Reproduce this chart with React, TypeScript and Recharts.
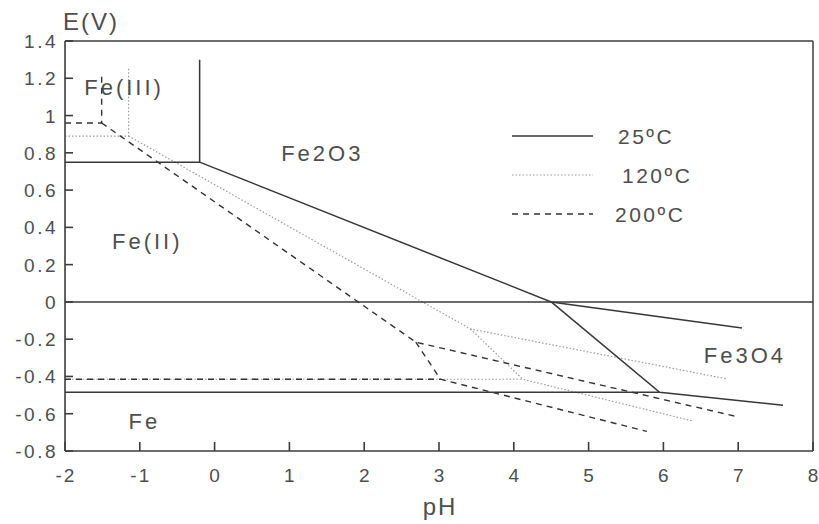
import React from 'react';
import { LineChart, Line, XAxis, YAxis, ReferenceLine, ReferenceDot, Legend } from 'recharts';

// Axis ticks
const xTicks = [-2, -1, 0, 1, 2, 3, 4, 5, 6, 7, 8];
const yTicks = [-0.8, -0.6, -0.4, -0.2, 0, 0.2, 0.4, 0.6, 0.8, 1, 1.2, 1.4];
const X_MIN = -2;
const X_MAX = 8;
const Y_MIN = -0.8;
const Y_MAX = 1.4;

type P = { pH: number; E: number };
const pts = (arr: number[][]): P[] => arr.map(([pH, E]) => ({ pH, E }));

// 25 ºC boundaries
const t25FeIII = pts([[-2, 0.75], [-0.2, 0.75], [-0.2, 1.3]]);
const t25Fe2O3 = pts([[-0.2, 0.75], [4.5, 0], [7.05, -0.14]]);
const t25Fe3O4 = pts([[4.5, 0], [5.95, -0.485], [7.6, -0.555]]);
const t25Fe = pts([[-2, -0.485], [5.95, -0.485]]);
const t25Water = pts([[-2, 0], [8, 0]]);

// 120 ºC boundaries
const t120FeIII = pts([[-2, 0.89], [-1.15, 0.89], [-1.15, 1.26]]);
const t120Fe2O3 = pts([[-1.15, 0.89], [3.42, -0.145], [6.85, -0.413]]);
const t120Fe3O4 = pts([[3.42, -0.145], [4.12, -0.415], [6.4, -0.64]]);
const t120Fe = pts([[-2, -0.415], [4.12, -0.415]]);

// 200 ºC boundaries
const t200FeIII = pts([[-2, 0.96], [-1.51, 0.96], [-1.51, 1.22]]);
const t200Fe2O3 = pts([[-1.51, 0.96], [2.69, -0.216], [7.0, -0.617]]);
const t200Fe3O4 = pts([[2.69, -0.216], [3.02, -0.415], [5.78, -0.695]]);
const t200Fe = pts([[-2, -0.415], [3.02, -0.415]]);

// Region labels
const regionNames = ['Fe(III)', 'Fe2O3', 'Fe(II)', 'Fe3O4', 'Fe'];
const regionPH = [-1.21, 1.44, -0.9, 7.09, -0.94];
const regionE = [1.15, 0.8, 0.325, -0.287, -0.64];

const legendLabels = ['25ºC', '120ºC', '200ºC'];

const FONT = '"Liberation Sans", Arial, Helvetica, sans-serif';
const TEXT = '#4e4e4e';
const AXIS = '#3c3c3c';

const style25 = { stroke: '#383838', strokeWidth: 1.5 };
const style120 = { stroke: '#9c9c9c', strokeWidth: 1.2, strokeDasharray: '1.5 2' };
const style200 = { stroke: '#333333', strokeWidth: 1.4, strokeDasharray: '6 5' };
const legendStyles = [style25, style120, style200];
const legendTextDx = [0, 4, -3];

const series: { data: P[]; st: any; key: string }[] = [
  { data: t120FeIII, st: style120, key: 'a120' },
  { data: t120Fe2O3, st: style120, key: 'b120' },
  { data: t120Fe3O4, st: style120, key: 'c120' },
  { data: t120Fe, st: style120, key: 'd120' },
  { data: t200FeIII, st: style200, key: 'a200' },
  { data: t200Fe2O3, st: style200, key: 'b200' },
  { data: t200Fe3O4, st: style200, key: 'c200' },
  { data: t200Fe, st: style200, key: 'd200' },
  { data: t25FeIII, st: style25, key: 'a25' },
  { data: t25Fe2O3, st: style25, key: 'b25' },
  { data: t25Fe3O4, st: style25, key: 'c25' },
  { data: t25Fe, st: style25, key: 'd25' },
  { data: t25Water, st: style25, key: 'w25' },
];

const XTick = (props: any) => {
  const { x, y, payload } = props;
  return (
    <text x={x + 1} y={y + 31} textAnchor="middle" fontSize={19} letterSpacing={2} fill={TEXT} fontFamily={FONT}>
      {payload.value}
    </text>
  );
};

const YTick = (props: any) => {
  const { x, y, payload } = props;
  return (
    <text x={x - 7} y={y + 7} textAnchor="end" fontSize={19} letterSpacing={2.5} fill={TEXT} fontFamily={FONT}>
      {payload.value}
    </text>
  );
};

const YTitle = (props: any) => {
  const vb = props.viewBox || {};
  return (
    <text x={vb.x + vb.width - 2} y={vb.y - 11} fontSize={24} letterSpacing={2} fill={TEXT} fontFamily={FONT}>
      E(V)
    </text>
  );
};

const XTitle = (props: any) => {
  const vb = props.viewBox || {};
  return (
    <text x={vb.x + vb.width / 2 + 1} y={vb.y + 64} textAnchor="middle" fontSize={24} letterSpacing={2} fill={TEXT} fontFamily={FONT}>
      pH
    </text>
  );
};

const LegendBox = () => (
  <svg width={210} height={115} style={{ display: 'block' }}>
    {legendLabels.map((lab, i) => {
      const cy = 21 + i * 39;
      return (
        <g key={lab}>
          <line x1={7} x2={88} y1={cy} y2={cy} {...(legendStyles[i] as any)} />
          <text x={113 + legendTextDx[i]} y={cy + 8} fontSize={21} letterSpacing={2.5} fill={TEXT} fontFamily={FONT}>
            {lab}
          </text>
        </g>
      );
    })}
  </svg>
);

export default function App() {
  return (
    <div style={{ position: 'absolute', left: 0, top: 0, background: '#fff', fontFamily: FONT }}>
      <LineChart width={819} height={524} margin={{ top: 41, right: 6, bottom: 43, left: 5 }}>
        <XAxis
          type="number"
          dataKey="pH"
          domain={[X_MIN, X_MAX]}
          ticks={xTicks}
          height={30}
          tickSize={-9}
          tickMargin={9}
          tickLine={{ stroke: AXIS, strokeWidth: 1.6 }}
          tick={<XTick />}
          axisLine={{ stroke: AXIS, strokeWidth: 1.6 }}
          label={<XTitle />}
          allowDataOverflow
        />
        <YAxis
          type="number"
          dataKey="E"
          domain={[Y_MIN, Y_MAX]}
          ticks={yTicks}
          width={60}
          tickSize={-8}
          tickMargin={8}
          tickLine={{ stroke: AXIS, strokeWidth: 1.6 }}
          tick={<YTick />}
          axisLine={{ stroke: AXIS, strokeWidth: 1.6 }}
          label={<YTitle />}
          allowDataOverflow
        />
        <ReferenceLine y={Y_MAX} stroke={AXIS} strokeWidth={1.5} />
        <ReferenceLine x={X_MAX} stroke={AXIS} strokeWidth={1.5} />
        {series.map((s) => (
          <Line
            key={s.key}
            data={s.data}
            dataKey="E"
            type="linear"
            dot={false}
            activeDot={false}
            isAnimationActive={false}
            legendType="none"
            {...s.st}
          />
        ))}
        {regionNames.map((name, i) => (
          <ReferenceDot
            key={name}
            x={regionPH[i]}
            y={regionE[i]}
            r={0}
            fill="none"
            stroke="none"
            label={{ value: name, position: 'center', fontSize: 22, fill: TEXT, letterSpacing: 3, fontFamily: FONT }}
          />
        ))}
        <Legend
          layout="horizontal"
          verticalAlign="middle"
          align="center"
          content={<LegendBox />}
          wrapperStyle={{ position: 'absolute', left: 505, top: 115, width: 210, height: 115 }}
        />
      </LineChart>
    </div>
  );
}
